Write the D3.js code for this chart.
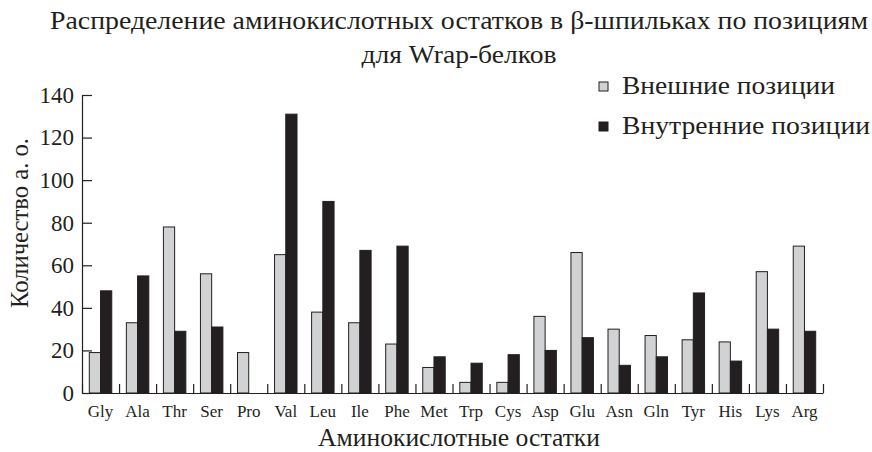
<!DOCTYPE html>
<html>
<head>
<meta charset="utf-8">
<script src="https://cdn.jsdelivr.net/npm/d3@7"></script>
<style>
  body { margin: 0; background: #fff; }
</style>
</head>
<body>
<div id="wrapper"></div>
<script>
// данные
const categories = ["Gly", "Ala", "Thr", "Ser", "Pro", "Val", "Leu", "Ile", "Phe", "Met",
                    "Trp", "Cys", "Asp", "Glu", "Asn", "Gln", "Tyr", "His", "Lys", "Arg"];
const outerValues = [19, 33, 78, 56, 19, 65, 38, 33, 23, 12, 5, 5, 36, 66, 30, 27, 25, 24, 57, 69];
const innerValues = [48, 55, 29, 31, 0, 131, 90, 67, 69, 17, 14, 18, 20, 26, 13, 17, 47, 15, 30, 29];
const seriesNames = ["Внешние позиции", "Внутренние позиции"];
const yTicks = [0, 20, 40, 60, 80, 100, 120, 140];

const FONT = '"Liberation Serif", "Times New Roman", serif';
const INK = "#231f20";

function buildPlot() {
    const dimension = {
        width: 872,
        height: 452,
        margin: { top: 95, left: 82, bottom: 59, right: 49 }
    };
    dimension.boundedWidth = dimension.width - dimension.margin.left - dimension.margin.right;
    dimension.boundedHeight = dimension.height - dimension.margin.top - dimension.margin.bottom;

    const data = categories.map((c, i) => ({ cat: c, values: [outerValues[i], innerValues[i]] }));
    const colors = ["#d1d2d4", INK];

    const svg = d3.select("#wrapper").append("svg")
        .attr("width", dimension.width)
        .attr("height", dimension.height);

    const bounded = svg.append("g")
        .attr("transform", `translate(${dimension.margin.left},${dimension.margin.top})`);

    const xScaler = d3.scaleBand()
        .domain(categories)
        .range([0, dimension.boundedWidth]);
    const xInner = d3.scaleBand()
        .domain([0, 1])
        .range([0, xScaler.bandwidth()])
        .paddingOuter(0.65);
    const yScaler = d3.scaleLinear()
        .domain([0, 140])
        .range([dimension.boundedHeight, 0]);

    // столбики
    const groups = bounded.selectAll("g.cat")
        .data(data)
        .join("g")
        .attr("class", "cat")
        .attr("transform", d => `translate(${xScaler(d.cat)},0)`);
    groups.selectAll("rect")
        .data(d => d.values.map((v, i) => ({ v, i })).filter(d => d.v > 0))
        .join("rect")
        .attr("x", d => xInner(d.i))
        .attr("y", d => yScaler(d.v))
        .attr("width", xInner.bandwidth())
        .attr("height", d => yScaler(0) - yScaler(d.v))
        .attr("fill", d => colors[d.i])
        .attr("stroke", INK)
        .attr("stroke-width", 1);

    // ось Y, засечки внутрь
    const yAxis = d3.axisLeft(yScaler)
        .tickValues(yTicks)
        .tickSize(-10)
        .tickSizeOuter(0)
        .tickPadding(8);
    const yg = bounded.append("g").call(yAxis);
    yg.selectAll("text").attr("font-size", 23).attr("fill", INK).style("font-family", FONT);
    yg.selectAll("line, path").attr("stroke", INK).attr("stroke-width", 1.2);

    // ось X: засечки по границам категорий
    const boundary = d3.scaleLinear().domain([0, categories.length]).range([0, dimension.boundedWidth]);
    const xg = bounded.append("g")
        .attr("transform", `translate(0,${dimension.boundedHeight})`)
        .call(d3.axisBottom(boundary).ticks(categories.length).tickSize(-9).tickSizeOuter(0).tickFormat(""));
    xg.selectAll("line, path").attr("stroke", INK).attr("stroke-width", 1.2);

    const xl = bounded.append("g")
        .attr("transform", `translate(0,${dimension.boundedHeight})`)
        .call(d3.axisBottom(xScaler).tickSize(0).tickPadding(12));
    xl.select(".domain").remove();
    xl.selectAll("text").attr("font-size", 17).attr("fill", INK).style("font-family", FONT);

    // заголовок
    svg.append("text")
        .attr("x", 459).attr("y", 29)
        .attr("text-anchor", "middle")
        .attr("font-size", 25)
        .attr("textLength", 818)
        .attr("lengthAdjust", "spacingAndGlyphs")
        .attr("fill", INK).style("font-family", FONT)
        .text("Распределение аминокислотных остатков в β-шпильках по позициям");
    svg.append("text")
        .attr("x", 459).attr("y", 63)
        .attr("text-anchor", "middle")
        .attr("font-size", 25)
        .attr("textLength", 195)
        .attr("lengthAdjust", "spacingAndGlyphs")
        .attr("fill", INK).style("font-family", FONT)
        .text("для Wrap-белков");

    // подписи осей
    svg.append("text")
        .attr("x", 459).attr("y", 446)
        .attr("text-anchor", "middle")
        .attr("font-size", 25)
        .attr("textLength", 282)
        .attr("lengthAdjust", "spacingAndGlyphs")
        .attr("fill", INK).style("font-family", FONT)
        .text("Аминокислотные остатки");
    svg.append("text")
        .attr("transform", "translate(28,223) rotate(-90)")
        .attr("text-anchor", "middle")
        .attr("font-size", 25)
        .attr("textLength", 170)
        .attr("lengthAdjust", "spacingAndGlyphs")
        .attr("fill", INK).style("font-family", FONT)
        .text("Количество а. о.");

    // легенда
    const legendWidths = [213, 248];
    const legend = svg.append("g").attr("transform", "translate(599,82)");
    seriesNames.forEach((name, i) => {
        const row = legend.append("g").attr("transform", `translate(0,${i * 40})`);
        row.append("rect")
            .attr("width", 9).attr("height", 9)
            .attr("fill", colors[i])
            .attr("stroke", INK);
        row.append("text")
            .attr("x", 23).attr("y", 12)
            .attr("font-size", 25)
            .attr("textLength", legendWidths[i])
            .attr("lengthAdjust", "spacingAndGlyphs")
            .attr("fill", INK).style("font-family", FONT)
            .text(name);
    });
}
buildPlot();
</script>
</body>
</html>
